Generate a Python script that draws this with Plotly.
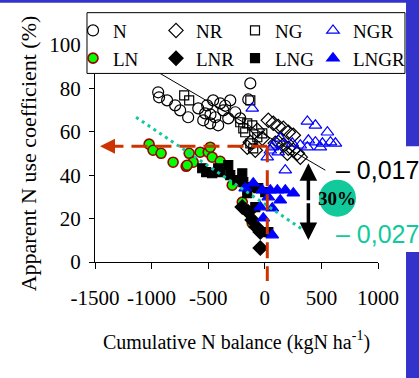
import plotly.graph_objects as go

# ---------------- data ----------------
N_x = [-942, -934, -863, -792, -748, -677, -509, -527, -544, -482, -438, -394, -367, -323, -261, -128, -146, -456, -412, -588, -305, -217, -350, -480]
N_y = [78.2, 75.9, 74.5, 72.2, 69.9, 66.7, 72.2, 68.5, 65.3, 63.9, 66.7, 73.1, 69.9, 66.2, 69.0, 82.3, 74.9, 74.5, 63.0, 70.8, 74.5, 66.2, 72.0, 68.0]

NR_x = [31, 75, 119, 164, 208, 252, 119, 164, 208, 252, 288, 314, -66, -128, -84, -155, 93, 199, -22]
NR_y = [65.3, 63.9, 62.5, 61.6, 59.8, 58.4, 55.2, 53.8, 52.4, 51.5, 50.1, 48.3, 60.7, 55.2, 51.5, 52.9, 54.7, 50.1, 57.0]

NG_x = [-712, -668, -128, -217, -155, -111, -190, -128, -66, -102, -22, -173]
NG_y = [76.8, 74.5, 74.5, 64.4, 63.9, 63.0, 61.6, 54.7, 57.5, 52.4, 59.3, 59.8]

NGR_x = [-111, 376, 447, 553, 385, 447, 509, 580, 376, 491, 75, 119, 181, 49, 22, 137, 243, 66, 624, 314]
NGR_y = [70.8, 64.8, 63.0, 59.8, 56.1, 55.2, 54.7, 55.2, 52.9, 52.9, 53.8, 50.6, 42.3, 51.5, 48.3, 57.0, 54.7, 52.9, 54.7, 53.8]

LN_x = [-1022, -987, -916, -810, -695, -668, -633, -571, -500, -482, -465, -394, -288, -199, -111, -686]
LN_y = [54.3, 51.5, 50.1, 46.0, 44.1, 50.1, 46.0, 50.6, 50.6, 52.9, 48.3, 46.4, 35.4, 27.6, 17.9, 44.6]

LNR_x = [-199, -146, -111, -75, -40, -40]
LNR_y = [25.3, 23.0, 19.3, 16.1, 13.8, 6.4]

LNG_x = [-553, -518, -465, -394, -323, -305, -199, -190, -155, -111, -58, 4, -84, 31, -243, -412]
LNG_y = [43.2, 41.4, 40.9, 41.4, 44.6, 40.0, 40.9, 36.8, 31.7, 34.5, 34.0, 32.2, 25.3, 13.8, 37.7, 43.2]

LNGR_x = [-102, -22, 49, 111, 181, 252, 137, -40, 66, -13, 66, 31, -173]
LNGR_y = [36.3, 33.1, 33.1, 33.1, 33.1, 31.7, 28.5, 25.3, 24.8, 20.2, 12.4, 29.9, 34.0]

x_tick_vals = [-1500, -1000, -500, 0, 500, 1000]
x_tick_text = ["-1500", "-1000", "-500", "0", "500", "1000"]
y_tick_vals = [0, 20, 40, 60, 80, 100]
y_tick_text = ["0", "20", "40", "60", "80", "100"]

# regression / guide lines (data coordinates)
reg_N = dict(x0=-1102, y0=92.3, x1=535, y1=42.3)
reg_LN = dict(x0=-1137, y0=66.7, x1=341, y1=14.7)
ref_y = 53.3
ref_x = 22
slope_N_label = "\u2013 0,017"
slope_LN_label = "\u2013 0,027"
diff_label = "30%"

SERIF = "Liberation Serif, Times New Roman, serif"
SANS = "Liberation Sans, Arial, sans-serif"
TEAL = "#12C99C"
ORANGE = "#CC3300"
BLUE = "#0000FF"
FRAME = "#3333CC"

fig = go.Figure()

def add(name, xs, ys, symbol, color, line_color, size, legend, lw=1.2):
    fig.add_trace(go.Scatter(
        x=xs, y=ys, mode="markers", name=name, legend=legend,
        marker=dict(symbol=symbol, size=size, color=color,
                    line=dict(color=line_color, width=lw)),
    ))

add("N", N_x, N_y, "circle-open", "black", "black", 11, "legend")
add("NR", NR_x, NR_y, "diamond-open", "black", "black", 11, "legend2")
add("NG", NG_x, NG_y, "square-open", "black", "black", 9, "legend3")
add("NGR", NGR_x, NGR_y, "triangle-up-open", BLUE, BLUE, 11, "legend4")
add("LN", LN_x, LN_y, "circle", "#00FF00", "#990000", 10, "legend", 1.6)
add("LNR", LNR_x, LNR_y, "diamond", "black", "black", 11, "legend2")
add("LNG", LNG_x, LNG_y, "square", "black", "black", 9, "legend3")
add("LNGR", LNGR_x, LNGR_y, "triangle-up", BLUE, BLUE, 11, "legend4")

shapes = [
    dict(type="line", xref="x", yref="y", layer="above", **reg_N,
         line=dict(color="black", width=1)),
    dict(type="line", xref="x", yref="y", layer="above", **reg_LN,
         line=dict(color=TEAL, width=3, dash="3px,4px")),
    dict(type="line", xref="x", yref="y", layer="above",
         x0=-1390, x1=ref_x, y0=ref_y, y1=ref_y,
         line=dict(color=ORANGE, width=3, dash="16px,8px")),
    dict(type="line", xref="x", yref="paper", layer="above",
         x0=ref_x, x1=ref_x, y0=ref_y / 100, y1=-0.087,
         line=dict(color=ORANGE, width=3, dash="16px,8px")),
    dict(type="circle", xref="x", yref="y", xsizemode="pixel", ysizemode="pixel",
         xanchor=642, yanchor=29.4, x0=-18.5, x1=18.5, y0=-18.5, y1=18.5,
         fillcolor=TEAL, line=dict(width=0), layer="above"),
    # legend box
    dict(type="rect", xref="paper", yref="paper", layer="above",
         x0=-0.0283, x1=1.0954, y0=0.869, y1=1.149,
         fillcolor="white", line=dict(color="black", width=1)),
    # blue slide frame
    dict(type="rect", xref="paper", yref="paper", x0=-0.4, x1=1.146, y0=1.195, y1=1.21,
         fillcolor=FRAME, line=dict(width=0)),
    dict(type="rect", xref="paper", yref="paper", x0=1.099, x1=1.146, y0=0.5333, y1=1.21,
         fillcolor=FRAME, line=dict(width=0)),
    dict(type="rect", xref="paper", yref="paper", x0=1.099, x1=1.146, y0=-0.54, y1=0.046,
         fillcolor=FRAME, line=dict(width=0)),
]

annotations = [
    dict(x=-1456, y=ref_y, ax=-1380, ay=ref_y, xref="x", yref="y", axref="x", ayref="y",
         showarrow=True, arrowhead=2, arrowsize=1.0, arrowwidth=3, arrowcolor=ORANGE, text=""),
    dict(x=385, y=45.5, ax=385, ay=27.8, xref="x", yref="y", axref="x", ayref="y",
         showarrow=True, arrowhead=2, arrowsize=1.0, arrowwidth=3.5, arrowcolor="black", text=""),
    dict(x=385, y=10.1, ax=385, ay=27.8, xref="x", yref="y", axref="x", ayref="y",
         showarrow=True, arrowhead=2, arrowsize=1.0, arrowwidth=3.5, arrowcolor="black", text=""),
    dict(x=636, y=29.4, xref="x", yref="y", text="<b>" + diff_label + "</b>", showarrow=False,
         font=dict(family=SERIF, size=19, color="black")),
    dict(x=0.8445, y=0.423, xref="paper", yref="paper", xanchor="left", yanchor="middle",
         text=slope_N_label, showarrow=False, font=dict(family=SANS, size=25, color="black")),
    dict(x=0.8445, y=0.129, xref="paper", yref="paper", xanchor="left", yanchor="middle",
         text=slope_LN_label, showarrow=False, font=dict(family=SANS, size=25, color=TEAL)),
]

def legend_col(xp):
    return dict(
        orientation="v", x=xp, y=1.154, xanchor="left", yanchor="top",
        bgcolor="rgba(0,0,0,0)", borderwidth=0, tracegroupgap=0, itemwidth=30,
        font=dict(family=SERIF, size=19, color="black"),
    )

fig.update_layout(
    width=419, height=378,
    margin=dict(l=95, r=41, t=44.5, b=116, autoexpand=False),
    paper_bgcolor="white", plot_bgcolor="white",
    font=dict(family=SERIF, size=20, color="black"),
    showlegend=True,
    legend=legend_col(-0.0777),
    legend2=legend_col(0.2156),
    legend3=legend_col(0.4947),
    legend4=legend_col(0.7703),
    xaxis=dict(
        range=[-1500, 1000], tickmode="array", tickvals=x_tick_vals, ticktext=x_tick_text,
        showline=True, linecolor="black", linewidth=1, ticks="outside", ticklen=6,
        tickcolor="black", showgrid=False, zeroline=False, ticklabelstandoff=11,
        tickfont=dict(family=SERIF, size=21),
        title=dict(text="Cumulative N balance (kgN ha<sup>-1</sup>)",
                   font=dict(family=SERIF, size=20), standoff=25),
    ),
    yaxis=dict(
        range=[0, 100], tickmode="array", tickvals=y_tick_vals, ticktext=y_tick_text,
        showline=True, linecolor="black", linewidth=1, ticks="outside", ticklen=5,
        tickcolor="black", showgrid=False, zeroline=False, ticklabelstandoff=4,
        tickfont=dict(family=SERIF, size=21),
        title=dict(text="Apparent N use coefficient (%)",
                   font=dict(family=SERIF, size=22), standoff=6),
    ),
    shapes=shapes,
    annotations=annotations,
)

fig.write_html(
    "out.html",
    config={"displayModeBar": False},
    post_script="document.body.style.margin='0';document.body.style.overflow='hidden';",
)
